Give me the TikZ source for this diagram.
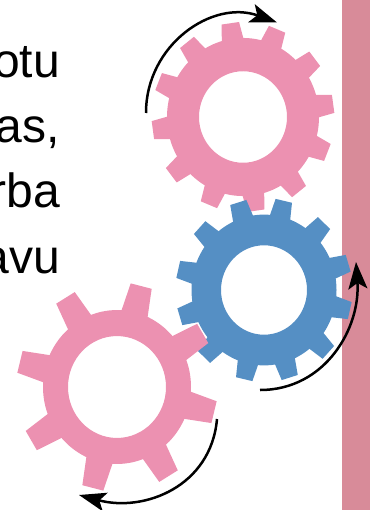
\documentclass[tikz,border=0pt]{standalone}
\usepackage{fontspec}
\setmainfont{Liberation Sans}
\usetikzlibrary{arrows.meta}
\definecolor{gearpink}{HTML}{EC91B1}
\definecolor{gearblue}{HTML}{558FC4}
\definecolor{wallrose}{HTML}{D88B99}
\tikzset{
  % ruota dentata
  pinkgear/.style={fill=gearpink},
  bluegear/.style={fill=gearblue},
  % parete a destra
  wall/.style={fill=wallrose},
  % freccia di rotazione
  spin/.style={-{Stealth[length=27pt, width=19pt, inset=6pt]}, line width=2.5pt, black},
  % testo tagliato a sinistra
  cuttext/.style={anchor=base east, inner sep=0pt, font=\fontsize{48}{48}\selectfont},
}
% nome, centro, stile, denti, fase, raggio base, raggio punta, raggio foro, semilarghezza dente
\newcommand{\gearwheel}[9]{%
  \coordinate (#1) at (#2);
  \begin{scope}[shift={(#1)}, yscale=1.04]
    \fill[#3, even odd rule] (0,0) circle (#6) (0,0) circle (#8);
    \foreach \i [evaluate=\i as \ang using #5+\i*360/#4] in {1,...,#4} {
      \fill[#3, rotate=\ang] (#6-2,-#9) -- (#7,-0.8*#9) -- (#7,0.8*#9) -- (#6-2,#9) -- cycle;
    }
  \end{scope}
}

\begin{document}
\begin{tikzpicture}[x=1pt, y=1pt]
  \useasboundingbox (0,0) rectangle (370,-510);
  \clip (0,0) rectangle (370,-510);
  \fill[wall] (342,0) rectangle (370,-510);
  \node[cuttext] (line1) at (60,-78) {otu};
  \node[cuttext] (line2) at (60,-143) {as,};
  \node[cuttext] (line3) at (60,-208) {rba};
  \node[cuttext] (line4) at (60,-273) {avu};
  \gearwheel{topgear}{243,-117}{pinkgear}{12}{8}{76}{91}{44}{11}
  \gearwheel{midgear}{264,-290}{bluegear}{12}{17}{72.5}{88}{43}{10.5}
  \gearwheel{lowgear}{117,-387}{pinkgear}{8}{31}{74}{100}{49}{13.5}
  \coordinate (topstart) at (146,-113);
  \coordinate (topend) at (277,-22.5);
  \coordinate (midstart) at (260,-390);
  \coordinate (midend) at (356,-262);
  \coordinate (lowstart) at (217,-419);
  \coordinate (lowend) at (79,-495);
  \draw[spin] (topstart) to[out=90, in=160, looseness=1.1] (topend);
  \draw[spin] (midstart) to[out=0, in=-86, looseness=1.05] (midend);
  \draw[spin] (lowstart) to[out=-95, in=-15, looseness=1.1] (lowend);
\end{tikzpicture}
\end{document}
